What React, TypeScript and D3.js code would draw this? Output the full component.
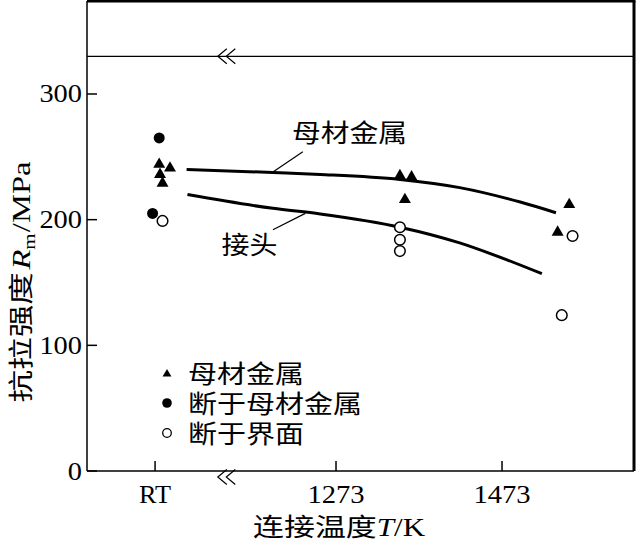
import React from "react";
import * as d3 from "d3";

// axis ticks (RT sits on the broken part of the axis)
const xTickValues = [1055, 1273, 1473];
const xTickLabels = ["RT", "1273", "1473"];
const yTickValues = [0, 100, 200, 300];
const breakAt = 1133; // "<<" break on the temperature axis
const upperLineValue = 330;

// 母材金属 (triangles)
const baseT = [1060, 1073, 1061, 1064, 1350, 1364, 1356, 1554, 1540];
const baseV = [244, 241, 236, 229, 235, 234, 216, 212, 190];
// 断于母材金属 (filled circles)
const fracBaseT = [1060, 1052];
const fracBaseV = [265, 205];
// 断于界面 (open circles)
const fracIfT = [1064, 1350, 1350, 1350, 1558, 1545];
const fracIfV = [199, 194, 184, 175, 187, 124];

// fitted curves
const baseCurveT = [1093, 1197, 1254, 1350, 1422, 1495, 1538];
const baseCurveV = [240, 237.5, 236, 232, 225.5, 214, 205.5];
const jointCurveT = [1094, 1197, 1254, 1350, 1422, 1479, 1521];
const jointCurveV = [220, 209, 204.5, 194, 181.5, 168, 157];

const legendLabels = ["母材金属", "断于母材金属", "断于界面"];

const W = 638;
const H = 540;
const margin = { left: 87, right: 4, top: 1, bottom: 69 };
const CJK = "'Liberation Serif', 'Noto Sans CJK SC', serif";
const NUM = "'Liberation Serif', serif";

const App: React.FC = () => {
  const x = d3
    .scaleLinear()
    .domain([973, 1632])
    .range([margin.left, W - margin.right]);
  const y = d3
    .scaleLinear()
    .domain([0, 374])
    .range([H - margin.bottom, margin.top]);

  const x0 = x.range()[0];
  const x1 = x.range()[1];
  const y0 = y.range()[0];
  const y1 = y.range()[1];

  const line = d3
    .line<[number, number]>()
    .x((d) => x(d[0]))
    .y((d) => y(d[1]))
    .curve(d3.curveMonotoneX);

  const basePts = baseCurveT.map((t, i) => [t, baseCurveV[i]] as [number, number]);
  const jointPts = jointCurveT.map((t, i) => [t, jointCurveV[i]] as [number, number]);

  const tri = d3.symbol(d3.symbolTriangle, 62)();
  const triSmall = d3.symbol(d3.symbolTriangle, 34)();

  // "<<" break mark starting at (cx, cy)
  const chevrons = (cx: number, cy: number) =>
    [0, 8.5]
      .map((dx) => `M${cx + dx + 9},${cy - 7.5}L${cx + dx},${cy}L${cx + dx + 9},${cy + 7.5}`)
      .join("");

  const legendRows = [373, 403, 433];

  return (
    <svg
      width={W}
      height={H}
      style={{ position: "absolute", left: 0, top: 0, background: "#fff" }}
    >
      <rect width={W} height={H} fill="#fff" />

      {/* frame */}
      <line x1={x0} x2={x0} y1={y1} y2={y0} stroke="#000" strokeWidth={1.5} />
      <line x1={x0} x2={x1} y1={y0} y2={y0} stroke="#000" strokeWidth={1.5} />
      <line x1={x0} x2={x1 + 1.5} y1={y1} y2={y1} stroke="#000" strokeWidth={3} />
      <line x1={x1} x2={x1} y1={y1} y2={y0} stroke="#000" strokeWidth={3} />

      {/* upper reference line with break */}
      <line
        x1={x0}
        x2={x1}
        y1={y(upperLineValue)}
        y2={y(upperLineValue)}
        stroke="#000"
        strokeWidth={1.2}
      />
      <path d={chevrons(x(breakAt) - 2, y(upperLineValue))} fill="none" stroke="#000" strokeWidth={1.2} />
      <path d={chevrons(x(breakAt) - 2, y0 + 6)} fill="none" stroke="#000" strokeWidth={1.2} />

      {/* y ticks */}
      {yTickValues.map((v) => (
        <g key={`y${v}`}>
          <line x1={x0} x2={x0 + 10} y1={y(v)} y2={y(v)} stroke="#000" strokeWidth={1.5} />
          <text
            x={x0 - 5}
            y={y(v) + 8.5}
            textAnchor="end"
            fontFamily={NUM}
            fontSize={25}
            textLength={String(v).length * 14.2}
            lengthAdjust="spacingAndGlyphs"
          >
            {v}
          </text>
        </g>
      ))}

      {/* x ticks */}
      {xTickValues.map((t, i) => (
        <g key={`x${t}`}>
          <line x1={x(t)} x2={x(t)} y1={y0} y2={y0 - 10} stroke="#000" strokeWidth={1.5} />
          <text
            x={x(t)}
            y={y0 + 32}
            textAnchor="middle"
            fontFamily={NUM}
            fontSize={25}
            textLength={xTickLabels[i] === "RT" ? 32 : xTickLabels[i].length * 14.3}
            lengthAdjust="spacingAndGlyphs"
          >
            {xTickLabels[i]}
          </text>
        </g>
      ))}

      {/* curves */}
      <path d={line(basePts) ?? ""} fill="none" stroke="#000" strokeWidth={3} />
      <path d={line(jointPts) ?? ""} fill="none" stroke="#000" strokeWidth={3} />

      {/* curve labels with leaders */}
      <line x1={x(1197)} y1={y(238)} x2={x(1233)} y2={y(254)} stroke="#000" strokeWidth={1.2} />
      <line x1={x(1236)} y1={y(205)} x2={x(1197)} y2={y(192)} stroke="#000" strokeWidth={1.2} />
      <text
        x={x(1220)}
        y={y(262)}
        fontFamily={CJK}
        fontSize={25}
        textLength={115}
        lengthAdjust="spacingAndGlyphs"
      >
        母材金属
      </text>
      <text
        x={x(1135)}
        y={y(172.7)}
        fontFamily={CJK}
        fontSize={25}
        textLength={56}
        lengthAdjust="spacingAndGlyphs"
      >
        接头
      </text>

      {/* data points */}
      {baseT.map((t, i) => (
        <path key={`b${i}`} d={tri ?? ""} transform={`translate(${x(t)},${y(baseV[i])})`} fill="#000" />
      ))}
      {fracBaseT.map((t, i) => (
        <circle key={`f${i}`} cx={x(t)} cy={y(fracBaseV[i])} r={5.5} fill="#000" />
      ))}
      {fracIfT.map((t, i) => (
        <circle
          key={`o${i}`}
          cx={x(t)}
          cy={y(fracIfV[i])}
          r={5.3}
          fill="#fff"
          stroke="#000"
          strokeWidth={1.5}
        />
      ))}

      {/* legend */}
      <path d={triSmall ?? ""} transform={`translate(167,${legendRows[0] + 1})`} fill="#000" />
      <circle cx={167} cy={legendRows[1]} r={4.8} fill="#000" />
      <circle cx={167} cy={legendRows[2]} r={4.3} fill="#fff" stroke="#000" strokeWidth={1.3} />
      {legendLabels.map((s, i) => (
        <text
          key={s}
          x={188}
          y={legendRows[i] + 9.5}
          fontFamily={CJK}
          fontSize={25}
          textLength={s.length * 29}
          lengthAdjust="spacingAndGlyphs"
        >
          {s}
        </text>
      ))}

      {/* axis titles */}
      <text
        x={339}
        y={536}
        textAnchor="middle"
        fontFamily={CJK}
        fontSize={25}
        textLength={172}
        lengthAdjust="spacingAndGlyphs"
      >
        连接温度<tspan fontStyle="italic">T</tspan>/K
      </text>
      <text
        transform="translate(30,282) rotate(-90)"
        textAnchor="middle"
        fontFamily={CJK}
        fontSize={25}
        textLength={241}
        lengthAdjust="spacingAndGlyphs"
      >
        抗拉强度<tspan fontStyle="italic" dx={2}>R</tspan>
        <tspan dy={5} fontSize={16}>m</tspan>
        <tspan dy={-5} dx={1}>/MPa</tspan>
      </text>
    </svg>
  );
};

export default App;
